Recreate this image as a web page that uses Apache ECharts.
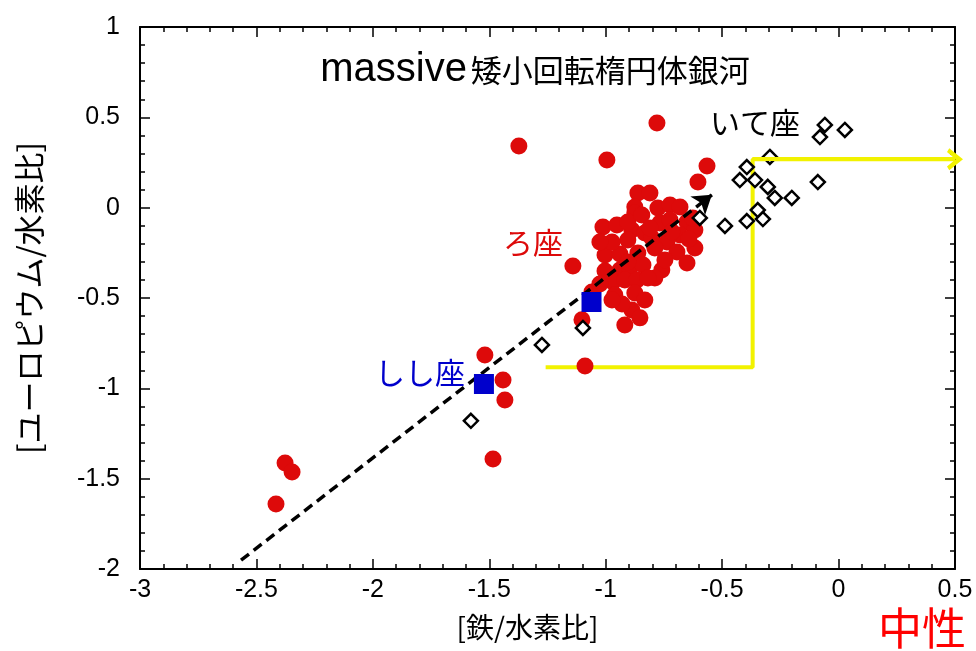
<!DOCTYPE html>
<html><head><meta charset="utf-8">
<script src="https://cdn.jsdelivr.net/npm/echarts@6/dist/echarts.min.js"></script>
<style>html,body{margin:0;padding:0;background:#fff}#c{width:976px;height:651px}</style>
</head><body><div id="c"></div>
<script>
const xTickLabels = ['-3','-2.5','-2','-1.5','-1','-0.5','0','0.5'];
const yTickLabels = ['-2','-1.5','-1','-0.5','0','0.5','1'];
const xRange = [-3, 0.5];
const yRange = [-2, 1];

// ろ座 (Fornax) stars: [Fe/H], [Eu/H]
const fornaxStars = [
  [-0.780,0.469],[-1.373,0.341],[-0.995,0.264],[-0.565,0.231],[-0.604,0.142],
  [-0.862,0.081],[-0.810,0.081],[-0.875,0.004],[-0.875,-0.029],[-0.776,-0.002],[-0.724,0.015],[-0.681,0.004],
  [-1.012,-0.107],[-0.952,-0.096],[-0.888,-0.123],[-0.832,-0.140],[-0.767,-0.085],[-0.724,-0.068],[-0.651,-0.079],
  [-0.617,-0.123],[-0.681,-0.151],[-0.617,-0.223],[-0.802,-0.168],[-0.737,-0.190],
  [-1.003,-0.262],[-0.939,-0.256],[-0.862,-0.251],[-0.789,-0.223],[-0.694,-0.245],[-0.651,-0.306],
  [-0.939,-0.345],[-0.896,-0.334],[-0.840,-0.317],[-0.759,-0.345],[-0.789,-0.389],[-0.969,-0.411],
  [-0.918,-0.400],[-0.866,-0.400],[-0.961,-0.483],[-0.875,-0.472],[-0.888,-0.566],[-0.918,-0.649],
  [-1.059,-0.467],[-1.102,-0.621],[-1.141,-0.323],[-1.089,-0.876],
  [-1.519,-0.815],[-1.441,-0.954],[-1.433,-1.064],[-1.484,-1.391],
  [-2.377,-1.413],[-2.347,-1.463],[-2.416,-1.640],
  [-0.905,-0.179],[-0.973,-0.190],[-0.626,-0.057],
  [-0.905,-0.079],[-0.845,-0.040],[-0.810,-0.112],[-1.025,-0.190],[-0.905,-0.301],[-0.819,-0.389],
  [-1.003,-0.350],[-1.025,-0.422],[-0.930,-0.533],[-0.832,-0.511],[-0.853,-0.610],[-0.746,-0.289],
  [-0.716,-0.134],[-0.643,-0.173],[-0.973,-0.511]
];
// いて座 (Sagittarius) stars
const sagittariusStars = [
  [-0.059,0.458],[-0.080,0.391],[0.027,0.430],[-0.295,0.281],[-0.394,0.225],[-0.424,0.153],
  [-0.359,0.153],[-0.304,0.115],[-0.089,0.142],[-0.274,0.054],[-0.201,0.054],[-0.347,-0.013],
  [-0.325,-0.063],[-0.394,-0.074],[-0.488,-0.101],[-0.596,-0.057],[-1.098,-0.666],[-1.274,-0.760],
  [-1.579,-1.180]
];
// しし座 (Leo) stars
const leoStars = [[-1.523,-0.976],[-1.061,-0.522]];
// dashed trend arrow
const trendLine = [[-2.566,-1.951],[-0.544,0.071]];
// yellow path
const yellowPath = [[-1.258,-0.883],[-0.369,-0.883],[-0.369,0.268],[0.5,0.268]];

const FONT = '"Liberation Sans", "Noto Sans CJK JP", sans-serif';
const JP = '"Noto Sans CJK JP", "Liberation Sans", sans-serif';
const chevron = 'path://M0,12 L10,0 L20,12 L16.5,14 L10,6.5 L3.5,14 Z';

function axisCommon(showLabel, labels, range, pos) {
  return {
    type: 'value', min: range[0], max: range[1], interval: 0.5, position: pos,
    axisLine: { show: true, onZero: false, lineStyle: { color: '#000', width: 2 } },
    axisTick: { show: true, inside: true, length: 10, lineStyle: { color: '#000', width: 1.5 } },
    minorTick: { show: true, splitNumber: 5, length: 5, lineStyle: { color: '#000', width: 1.5 } },
    splitLine: { show: false }, minorSplitLine: { show: false },
    axisLabel: {
      show: showLabel, color: '#000', fontSize: 25, fontFamily: FONT,
      formatter: v => labels[Math.round((v - range[0]) / 0.5)]
    }
  };
}

const chart = echarts.init(document.getElementById('c'), null, { renderer: 'canvas' });
const xa0 = axisCommon(true, xTickLabels, xRange, 'bottom');
xa0.axisLabel.margin = 9;
xa0.name = '[鉄/水素比]'; xa0.nameLocation = 'middle'; xa0.nameGap = 44;
xa0.nameTextStyle = { fontSize: 28, color: '#000', fontFamily: JP, padding: [0, 40, 0, 0] };
const xa1 = axisCommon(false, xTickLabels, xRange, 'top');
const ya0 = axisCommon(true, yTickLabels, yRange, 'left');
ya0.axisLabel.margin = 20;
ya0.name = '[ユーロピウム/水素比]'; ya0.nameLocation = 'middle'; ya0.nameGap = 95;
ya0.nameTextStyle = { fontSize: 31, color: '#000', fontFamily: JP };
const ya1 = axisCommon(false, yTickLabels, yRange, 'right');

chart.setOption({
  animation: false,
  backgroundColor: '#fff',
  grid: { left: 140, right: 21, top: 27, bottom: 82, containLabel: false, outerBoundsMode: 'none' },
  xAxis: [xa0, xa1],
  yAxis: [ya0, ya1],
  series: [
    {
      type: 'line', data: yellowPath, symbol: 'none', z: 1,
      lineStyle: { color: '#f2f200', width: 4 },
      markLine: {
        silent: true, symbol: ['none', chevron], symbolSize: [22, 16],
        label: { show: false },
        lineStyle: { color: '#f2f200', width: 4, type: 'solid' },
        data: [[{ coord: yellowPath[2] }, { coord: yellowPath[3] }]]
      }
    },
    {
      type: 'scatter', data: fornaxStars, symbol: 'circle', symbolSize: 17, z: 2,
      itemStyle: { color: '#dd0a0a', opacity: 1 }
    },
    {
      type: 'line', data: trendLine, symbol: 'none', z: 3,
      lineStyle: { opacity: 0 },
      markLine: {
        silent: true, symbol: ['none', 'arrow'], symbolSize: 18,
        label: { show: false },
        lineStyle: { color: '#000', width: 3.5, type: [10, 6] },
        data: [[{ coord: trendLine[0] }, { coord: trendLine[1] }]]
      }
    },
    {
      type: 'scatter', data: sagittariusStars, symbol: 'diamond', symbolSize: 14, z: 4,
      itemStyle: { color: '#fff', borderColor: '#000', borderWidth: 2.5, opacity: 1 }
    },
    {
      type: 'scatter', data: leoStars, symbol: 'rect', symbolSize: 20, z: 5,
      itemStyle: { color: '#0000cc', opacity: 1 }
    }
  ],
  graphic: [
    { type: 'text', x: 535, y: 70, z: 10, style: {
        text: '{a|massive}{s| }{b|矮小回転楕円体銀河}', align: 'center', verticalAlign: 'middle',
        rich: {
          a: { fontSize: 40, fontFamily: FONT, fill: '#000' },
          s: { fontSize: 14, fontFamily: FONT, fill: '#000' },
          b: { fontSize: 31, fontFamily: JP, fill: '#000' }
        }
    } },
    { type: 'text', x: 755, y: 123, z: 10, style: { text: 'いて座', fontSize: 30, fontFamily: JP, fill: '#000', align: 'center', verticalAlign: 'middle' } },
    { type: 'text', x: 533, y: 243, z: 10, style: { text: 'ろ座', fontSize: 30, fontFamily: JP, fill: '#dd0a0a', align: 'center', verticalAlign: 'middle' } },
    { type: 'text', x: 420, y: 373, z: 10, style: { text: 'しし座', fontSize: 30, fontFamily: JP, fill: '#0000cc', align: 'center', verticalAlign: 'middle' } },
    { type: 'text', x: 922, y: 628, z: 10, style: { text: '中性', fontSize: 44, fontFamily: JP, fill: '#ff0000', align: 'center', verticalAlign: 'middle' } }
  ]
});
</script></body></html>
